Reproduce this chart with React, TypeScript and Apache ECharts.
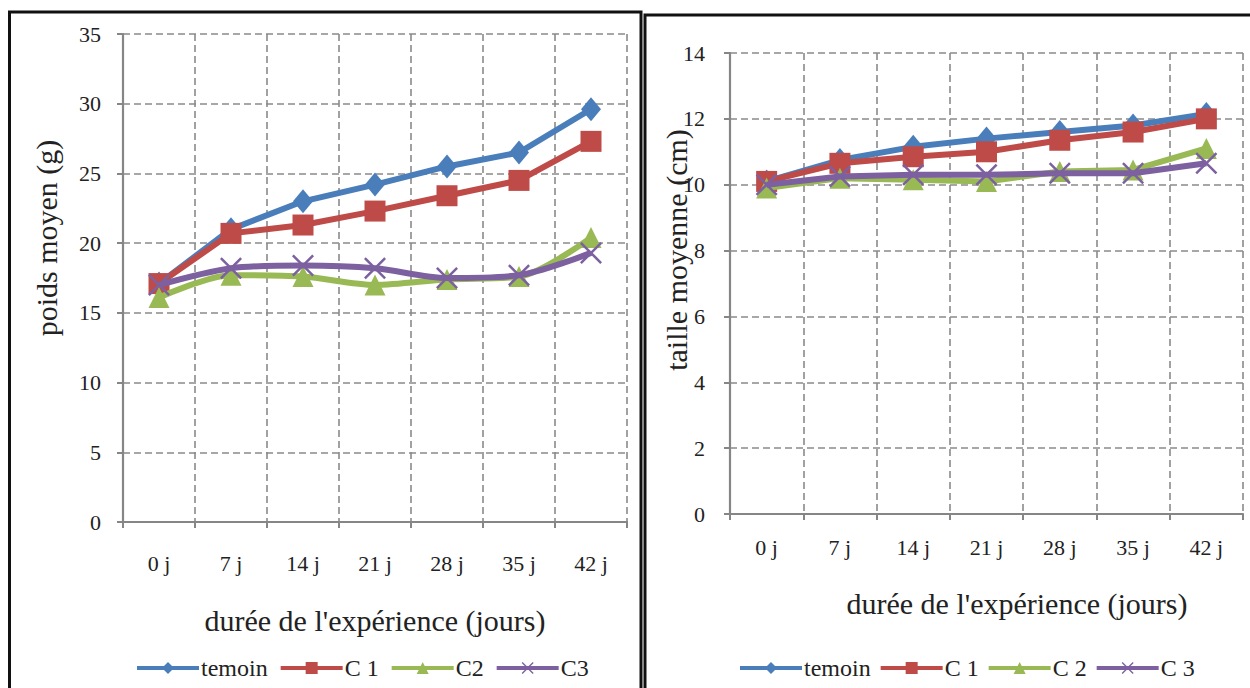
import React, { useEffect, useRef } from "react";
import * as echarts from "echarts";

const categories = ["0 j", "7 j", "14 j", "21 j", "28 j", "35 j", "42 j"];

const poidsTemoin = [17.1, 21.0, 23.0, 24.2, 25.5, 26.5, 29.6];
const poidsC1 = [17.1, 20.7, 21.3, 22.3, 23.4, 24.5, 27.3];
const poidsC2 = [16.1, 17.7, 17.6, 17.0, 17.4, 17.6, 20.4];
const poidsC3 = [17.0, 18.2, 18.4, 18.2, 17.5, 17.7, 19.3];

const tailleTemoin = [10.1, 10.75, 11.15, 11.4, 11.6, 11.8, 12.15];
const tailleC1 = [10.1, 10.65, 10.85, 11.0, 11.35, 11.6, 12.0];
const tailleC2 = [9.9, 10.2, 10.15, 10.1, 10.4, 10.45, 11.1];
const tailleC3 = [10.0, 10.25, 10.3, 10.3, 10.35, 10.35, 10.65];

const leftNames = ["temoin", "C 1", "C2", "C3"];
const rightNames = ["temoin", "C 1", "C 2", "C 3"];

const FONT = "Liberation Serif";
const COLORS = ["#4A7EBB", "#BE4B48", "#98B954", "#7D60A0"];
const SYMBOLS = [
  "diamond",
  "rect",
  "triangle",
  "path://M0,1.6 L1.6,0 L10,8.4 L18.4,0 L20,1.6 L11.6,10 L20,18.4 L18.4,20 L10,11.6 L1.6,20 L0,18.4 L8.4,10 Z",
];
const SIZES: any[] = [[20, 24], 21, 21, 22];

export default function App() {
  const ref = useRef<HTMLDivElement>(null);

  useEffect(() => {
    if (!ref.current) return;
    const chart = echarts.init(ref.current, undefined, { renderer: "svg" });

    const gridLine = { show: true, lineStyle: { color: "#8a8a8a", type: [7, 4] as any, width: 1.6 } };
    const axisLine = { show: true, lineStyle: { color: "#868686", width: 2.2 } };
    const axisTick = { show: true, length: 6, lineStyle: { color: "#868686", width: 2 } };

    const mkX = (gi: number, margin: number) => ({
      type: "category",
      gridIndex: gi,
      data: categories,
      boundaryGap: true,
      axisLine,
      axisTick: { ...axisTick, alignWithLabel: false },
      splitLine: gridLine,
      axisLabel: { color: "#222", fontFamily: FONT, fontSize: 22, margin },
    });
    const mkY = (gi: number, max: number, interval: number, margin: number) => ({
      type: "value",
      gridIndex: gi,
      min: 0,
      max,
      interval,
      axisLine,
      axisTick,
      splitLine: gridLine,
      axisLabel: { color: "#222", fontFamily: FONT, fontSize: 22, margin },
    });

    const mkSeries = (name: string, data: number[], i: number, gi: number, smooth: any) => ({
      type: "line",
      name,
      data,
      xAxisIndex: gi,
      yAxisIndex: gi,
      smooth,
      symbol: SYMBOLS[i],
      symbolSize: SIZES[i],
      showSymbol: true,
      lineStyle: { color: COLORS[i], width: 6 },
      itemStyle: { color: COLORS[i], borderColor: COLORS[i], borderWidth: 0 },
      z: 2 + i,
    });

    const leftData = [poidsTemoin, poidsC1, poidsC2, poidsC3];
    const rightData = [tailleTemoin, tailleC1, tailleC2, tailleC3];

    const series: any[] = [];
    leftData.forEach((d, i) => series.push(mkSeries(leftNames[i], d, i, 0, i >= 2 ? 0.3 : false)));
    rightData.forEach((d, i) => series.push(mkSeries(rightNames[i], d, i, 1, false)));

    const legendCommon = {
      top: 651,
      itemWidth: 62,
      itemHeight: 15,
      lineStyle: { width: 4 },
      textStyle: { color: "#222", fontFamily: FONT, fontSize: 24, padding: [0, 0, 0, -3] },
      selectedMode: false,
    };

    const textStyle = (text: string) => ({
      text,
      fontFamily: FONT,
      fontSize: 30,
      fill: "#222",
      align: "center",
      verticalAlign: "middle",
    });

    const option: any = {
      animation: false,
      backgroundColor: "#ffffff",
      textStyle: { fontFamily: FONT },
      grid: [
        { left: 123, top: 34, width: 504, height: 488 },
        { left: 730, top: 53, width: 513, height: 461 },
      ],
      xAxis: [mkX(0, 30), mkX(1, 22)],
      yAxis: [mkY(0, 35, 5, 22), mkY(1, 14, 2, 25)],
      legend: [
        { ...legendCommon, left: 130, itemGap: 11, data: leftNames },
        { ...legendCommon, left: 733, itemGap: 8, data: rightNames },
      ],
      series,
      graphic: [
        {
          type: "rect",
          shape: { x: 9.5, y: 12, width: 631.5, height: 700 },
          style: { fill: "none", stroke: "#111", lineWidth: 3 },
          silent: true,
        },
        {
          type: "rect",
          shape: { x: 645, y: 15, width: 620, height: 700 },
          style: { fill: "none", stroke: "#111", lineWidth: 3 },
          silent: true,
        },
        { type: "text", x: 46, y: 238, rotation: Math.PI / 2, style: textStyle("poids moyen (g)") },
        { type: "text", x: 676, y: 250, rotation: Math.PI / 2, style: textStyle("taille moyenne (cm)") },
        { type: "text", x: 375, y: 620, style: textStyle("durée de l'expérience (jours)") },
        { type: "text", x: 1017, y: 603, style: textStyle("durée de l'expérience (jours)") },
      ],
    };

    chart.setOption(option);
    return () => chart.dispose();
  }, []);

  return (
    <div
      ref={ref}
      style={{ position: "fixed", left: 0, top: 0, width: 1250, height: 688, background: "#fff" }}
    />
  );
}
